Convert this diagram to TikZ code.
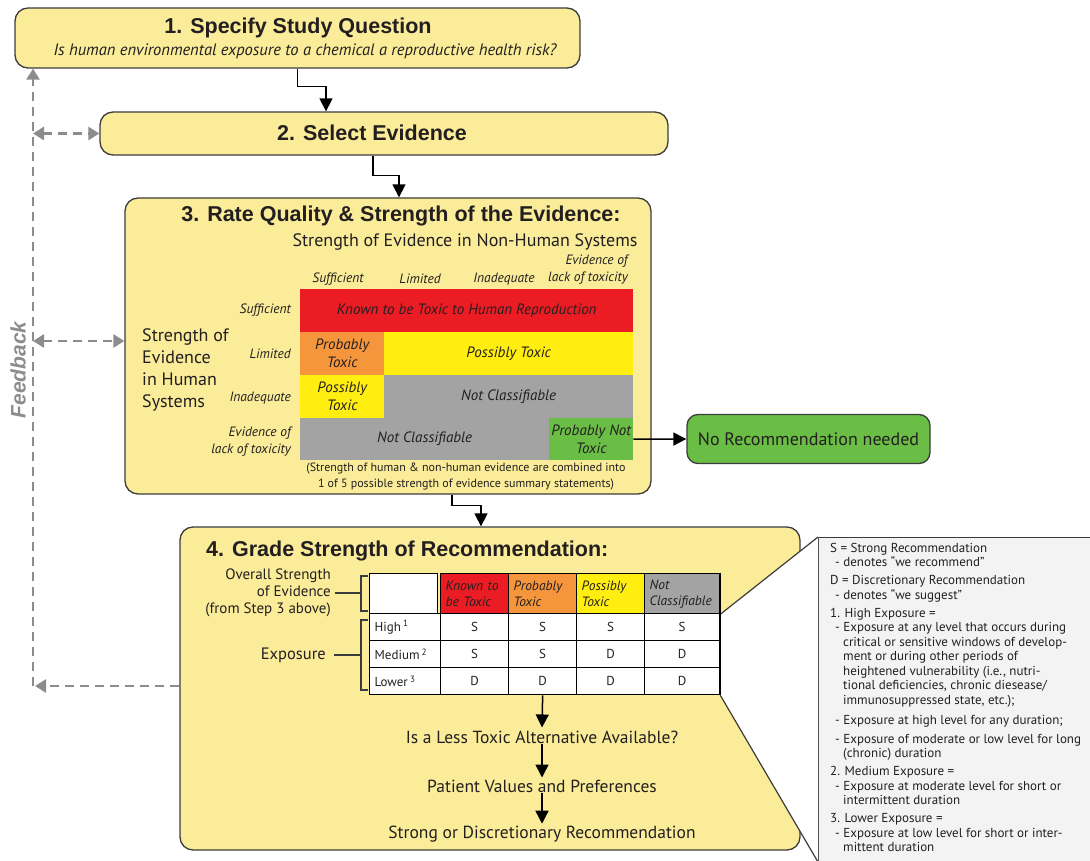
\documentclass[tikz,border=0pt]{standalone}
\usepackage{fontspec}
\setmainfont{PT Sans}
\newfontfamily\hfont{Liberation Sans}
\usetikzlibrary{arrows.meta,calc}
\definecolor{byel}{HTML}{FAEC98}
\definecolor{bord}{HTML}{3C3C3C}
\definecolor{cred}{HTML}{EC1C24}
\definecolor{cora}{HTML}{F6963C}
\definecolor{cyel}{HTML}{FFEE10}
\definecolor{cgray}{HTML}{A3A3A3}
\definecolor{cgreen}{HTML}{6ABD45}
\definecolor{fbg}{HTML}{8C8C8C}
\definecolor{lgfill}{HTML}{F3F3F3}
\definecolor{txt}{HTML}{231F20}
\newcommand\fsz[2]{\fontsize{#1}{#2}\selectfont}
\newcommand\lgd{\hspace*{5pt}- }
\newcommand\lgc{\hspace*{13pt}}
\tikzset{
  ybox/.style={draw=bord, line width=1.3pt, fill=byel, rounded corners=13pt, inner sep=0pt},
  ttl/.style={font=\hfont\bfseries\fsz{21.5}{24}, text=txt, inner sep=0pt},
  flow/.style={draw=black, line width=1.5pt, -{Triangle[length=13pt,width=13pt]}},
  fb/.style={draw=fbg, line width=2.6pt, dash pattern=on 9pt off 6pt},
  mcell/.style={anchor=north west, inner sep=0pt, align=center, text=txt, font=\itshape\fsz{15}{18}},
  mlab/.style={inner sep=0pt, text=txt, font=\itshape\fsz{13.5}{17}},
  tcell/.style={draw=black, line width=1.3pt, anchor=north west, inner sep=0pt, minimum height=27pt, text=txt, font=\fsz{13}{15}, fill=white},
  thead/.style={tcell, minimum height=40pt, text width=58pt, inner xsep=5pt, align=left, font=\itshape\fsz{13.5}{16}},
  brk/.style={draw=bord, line width=1.2pt},
  body/.style={inner sep=0pt, text=txt},
}
\begin{document}
\begin{tikzpicture}[x=1pt,y=-1pt]
\useasboundingbox (0,0) rectangle (1090,861);
\clip (0,0) rectangle (1090,861);

% ---------- box 1
\node[ybox, minimum width=565pt, minimum height=60pt] (b1) at (297.5,38) {};
\node[ttl] (t1) at (298,28) {1. Specify Study Question};
\node[body, font=\itshape\fsz{16.5}{18}] (t1s) at (305,51) {Is human environmental exposure to a chemical a reproductive health risk?};

% ---------- box 2
\node[ybox, minimum width=568pt, minimum height=43pt] (b2) at (384,133.5) {};
\node[ttl] (t2) at (372,133) {2. Select Evidence};

% ---------- box 3
\node[ybox, minimum width=526pt, minimum height=296pt] (b3) at (388,346) {};
\node[ttl] (t3) at (401,216) {3. Rate Quality \& Strength of the Evidence:};
\node[body, font=\fsz{18}{21}] (nh) at (465,242) {Strength of Evidence in Non-Human Systems};
\node[mlab] (c1) at (338,279) {Sufficient};
\node[mlab] (c2) at (420,279) {Limited};
\node[mlab] (c3) at (504,279) {Inadequate};
\node[mlab, align=right] (c4) at (588,270) {Evidence of\\lack of toxicity};
\node[mlab, anchor=east] (r1) at (291,310) {Sufficient};
\node[mlab, anchor=east] (r2) at (291,354) {Limited};
\node[mlab, anchor=east] (r3) at (291,398) {Inadequate};
\node[mlab, anchor=east, align=right] (r4) at (291,442) {Evidence of\\lack of toxicity};
\node[body, anchor=west, align=left, font=\fsz{18}{22}] (hs) at (142,370) {Strength of\\Evidence\\in Human\\Systems};

\node[mcell, fill=cred, minimum width=333pt, minimum height=43pt] (m11) at (300,289) {Known to be Toxic to Human Reproduction};
\node[mcell, fill=cora, minimum width=84pt, minimum height=43pt] (m21) at (300,332) {Probably\\Toxic};
\node[mcell, fill=cyel, minimum width=249pt, minimum height=43pt] (m22) at (384,332) {Possibly Toxic};
\node[mcell, fill=cyel, minimum width=84pt, minimum height=43pt] (m31) at (300,375) {Possibly\\Toxic};
\node[mcell, fill=cgray, minimum width=249pt, minimum height=43pt] (m32) at (384,375) {Not Classifiable};
\node[mcell, fill=cgray, minimum width=249pt, minimum height=42pt] (m41) at (300,418) {Not Classifiable};
\node[mcell, fill=cgreen, minimum width=84pt, minimum height=42pt] (m42) at (549,418) {Probably Not\\Toxic};
\node[body, align=center, font=\fsz{12}{16}] (note) at (466,477) {(Strength of human \& non-human evidence are combined into\\1 of 5 possible strength of evidence summary statements)};

% ---------- no recommendation
\node[draw=bord, line width=1.3pt, fill=cgreen, rounded corners=11pt, minimum width=243pt, minimum height=49pt, inner sep=0pt, font=\fsz{18}{20}, text=txt] (norec) at (808.5,439) {No Recommendation needed};

% ---------- box 4
\node[ybox, minimum width=620pt, minimum height=323pt] (b4) at (490,688.5) {};
\node[ttl, anchor=west] (t4) at (206,551) {4. Grade Strength of Recommendation:};

% table header
\node[thead] (h0) at (369,573) {};
\node[thead, fill=cred] (h1) at (440,573) {Known to\\be Toxic};
\node[thead, fill=cora] (h2) at (508,573) {Probably\\Toxic};
\node[thead, fill=cyel] (h3) at (576,573) {Possibly\\Toxic};
\node[thead, fill=cgray, text width=65pt] (h4) at (644,573) {Not\\Classifiable};

% legend box
\node[draw=bord, line width=1.3pt, fill=lgfill, anchor=north west, minimum width=290pt, minimum height=340pt, inner sep=0pt] (lg) at (818,537) {};
\coordinate (lgbl) at (818,862);

% rows
\node[tcell, minimum width=71pt, text width=61pt, inner xsep=5pt, align=left] (a0) at (369,613) {High\,\textsuperscript{1}};
\node[tcell, minimum width=68pt] (a1) at (440,613) {S};
\node[tcell, minimum width=68pt] (a2) at (508,613) {S};
\node[tcell, minimum width=68pt] (a3) at (576,613) {S};
\node[tcell, minimum width=75pt] (a4) at (644,613) {S};
\node[tcell, minimum width=71pt, text width=61pt, inner xsep=5pt, align=left] (b0) at (369,640) {Medium\,\textsuperscript{2}};
\node[tcell, minimum width=68pt] (bb1) at (440,640) {S};
\node[tcell, minimum width=68pt] (bb2) at (508,640) {S};
\node[tcell, minimum width=68pt] (bb3) at (576,640) {D};
\node[tcell, minimum width=75pt] (bb4) at (644,640) {D};
\node[tcell, minimum width=71pt, text width=61pt, inner xsep=5pt, align=left] (c0) at (369,667) {Lower\,\textsuperscript{3}};
\node[tcell, minimum width=68pt] (cc1) at (440,667) {D};
\node[tcell, minimum width=68pt] (cc2) at (508,667) {D};
\node[tcell, minimum width=68pt] (cc3) at (576,667) {D};
\node[tcell, minimum width=75pt] (cc4) at (644,667) {D};

% callout wedge
\fill[white] (h4.south east) -- (lg.north west) -- (lgbl) -- (cc4.south east) -- cycle;
\draw[bord, line width=1.2pt] (h4.south east) -- (lg.north west);
\draw[bord, line width=1.2pt] (cc4.south east) -- (lgbl);
\draw[black, line width=1.3pt] (h4.north east) -- (cc4.south east);

% labels at left of table
\node[body, anchor=east, align=right, font=\fsz{15}{17}] (os) at (331,593) {Overall Strength\\of Evidence\\(from Step 3 above)};
\coordinate (k1) at (361,593);
\draw[brk] (368,576) -- (361,576) -- (361,611) -- (368,611);
\draw[brk] ([xshift=4pt]os.east) -- (k1);
\node[body, anchor=east, font=\fsz{16.5}{19}] (ex) at (326,655) {Exposure};
\coordinate (k2) at (361,655);
\draw[brk] (368,620) -- (361,620) -- (361,690) -- (368,690);
\draw[brk] ([xshift=8pt]ex.east) -- (k2);

% flow below table
\node[body, font=\fsz{17.5}{20}] (q1) at (542,737) {Is a Less Toxic Alternative Available?};
\node[body, font=\fsz{17.5}{20}] (q2) at (542,786) {Patient Values and Preferences};
\node[body, font=\fsz{17.5}{20}] (q3) at (542,834) {Strong or Discretionary Recommendation};
\draw[flow] (cc2.south) -- ([yshift=3pt]q1.north);
\draw[flow] (q1.south) -- ([yshift=2pt]q2.north);
\draw[flow] (q2.south) -- ([yshift=2pt]q3.north);

% legend text
\node[body, anchor=north west, align=left, font=\fsz{13}{14.5}] (lgt) at (830,543) {S = Strong Recommendation\\
\lgd denotes “we recommend”\\[3.5pt]
D = Discretionary Recommendation\\
\lgd denotes “we suggest”\\[3.5pt]
1. High Exposure =\\
\lgd Exposure at any level that occurs during\\
\lgc critical or sensitive windows of develop-\\
\lgc ment or during other periods of\\
\lgc heightened vulnerability (i.e., nutri-\\
\lgc tional deficiencies, chronic diesease/\\
\lgc immunosuppressed state, etc.);\\[5.5pt]
\lgd Exposure at high level for any duration;\\[4.5pt]
\lgd Exposure of moderate or low level for long\\
\lgc (chronic) duration\\[3.5pt]
2. Medium Exposure =\\
\lgd Exposure at moderate level for short or\\
\lgc intermittent duration\\[3.5pt]
3. Lower Exposure =\\
\lgd Exposure at low level for short or inter-\\
\lgc mittent duration};

% ---------- main flow connectors
\coordinate (x1) at (326,0);
\coordinate (x2) at (399,0);
\coordinate (x3) at (481,0);
\draw[flow] (b1.south) -- ++(0,18) -| (x1 |- b2.north);
\draw[flow] ([xshift=-11pt]b2.south) -- ++(0,20) -| (x2 |- b3.north);
\draw[flow] ([xshift=64pt]b3.south) -- ++(0,11) -| (x3 |- b4.north);
\draw[flow] (m42.east) -- (norec.west);

% ---------- feedback
\coordinate (fb0) at (33,686);
\coordinate (fb3) at (33,341);
\draw[fb, -{Triangle[length=11pt,width=13pt]}] (fb0) -- (fb0 |- b1.south);
\draw[fb, -{Triangle[length=11pt,width=13pt]}] (b4.west |- fb0) -- ([xshift=2pt]fb0);
\draw[fb, {Triangle[length=11pt,width=13pt]}-{Triangle[length=11pt,width=13pt]}] (fb0 |- b2.west) -- (b2.west);
\draw[fb, {Triangle[length=11pt,width=13pt]}-{Triangle[length=11pt,width=13pt]}] (fb3) -- (fb3 -| b3.west);
\node[rotate=90, inner sep=0pt, text=fbg, font=\hfont\bfseries\itshape\fsz{21}{23}] (fbl) at (18,370) {Feedback};
\end{tikzpicture}
\end{document}
